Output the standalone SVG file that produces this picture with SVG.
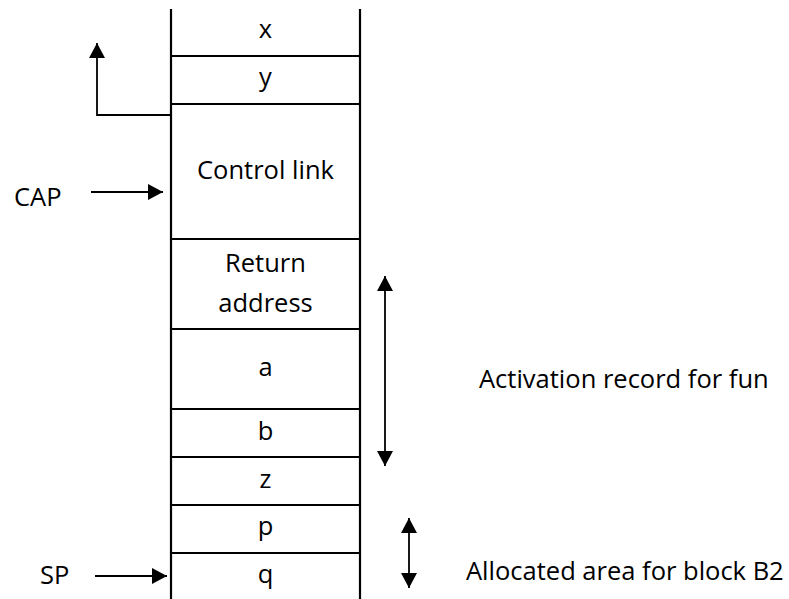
<svg xmlns="http://www.w3.org/2000/svg" width="789" height="599" viewBox="0 0 789 599">
  <defs>
    <style>
      .cell { fill: none; stroke: #000; stroke-width: 2.2; }
      .wire { fill: none; stroke: #000; stroke-width: 1.8; }
      .lbl { font-family: "Open Sans", "Liberation Sans", sans-serif; font-size: 25.5px; fill: #000; }
      .mid { text-anchor: middle; }
    </style>
    <marker id="head" viewBox="0 0 15 16" refX="15" refY="8" markerWidth="15" markerHeight="16" markerUnits="userSpaceOnUse" orient="auto-start-reverse">
      <path d="M0,0 L15,8 L0,16 Z" fill="#000"/>
    </marker>
  </defs>
  <rect width="789" height="599" fill="#fff"/>

  <!-- stack frame: two long side walls -->
  <g id="stack">
    <line class="cell" x1="171" y1="9" x2="171" y2="599"/>
    <line class="cell" x1="360" y1="9" x2="360" y2="599"/>
  </g>

  <g id="cell-x"><text class="lbl mid" x="265.5" y="38">x</text></g>
  <g id="cell-y"><line class="cell" x1="171" y1="56" x2="360" y2="56"/><text class="lbl mid" x="265.5" y="86">y</text></g>
  <g id="cell-control-link"><line class="cell" x1="171" y1="104" x2="360" y2="104"/><text class="lbl mid" x="265.5" y="179">Control link</text></g>
  <g id="cell-return-address"><line class="cell" x1="171" y1="239" x2="360" y2="239"/><text class="lbl mid" x="265.5" y="272">Return</text><text class="lbl mid" x="265.5" y="312">address</text></g>
  <g id="cell-a"><line class="cell" x1="171" y1="329" x2="360" y2="329"/><text class="lbl mid" x="265.5" y="376">a</text></g>
  <g id="cell-b"><line class="cell" x1="171" y1="409" x2="360" y2="409"/><text class="lbl mid" x="265.5" y="440">b</text></g>
  <g id="cell-z"><line class="cell" x1="171" y1="457" x2="360" y2="457"/><text class="lbl mid" x="265.5" y="488">z</text></g>
  <g id="cell-p"><line class="cell" x1="171" y1="505" x2="360" y2="505"/><text class="lbl mid" x="265.5" y="535">p</text></g>
  <g id="cell-q"><line class="cell" x1="171" y1="553" x2="360" y2="553"/><text class="lbl mid" x="265.5" y="583">q</text></g>

  <g id="label-cap"><text class="lbl" x="14" y="206">CAP</text></g>
  <g id="label-sp"><text class="lbl" x="40" y="584">SP</text></g>
  <g id="label-activation"><text class="lbl" x="479" y="388">Activation record for fun</text></g>
  <g id="label-b2"><text class="lbl" x="466" y="580">Allocated area for block B2</text></g>

  <g id="connectors">
    <path class="wire" d="M171,115 H97 V43" marker-end="url(#head)"/>
    <line class="wire" x1="91" y1="192" x2="163" y2="192" marker-end="url(#head)"/>
    <line class="wire" x1="95" y1="576" x2="167" y2="576" marker-end="url(#head)"/>
    <line class="wire" x1="385" y1="276" x2="385" y2="466" marker-start="url(#head)" marker-end="url(#head)"/>
    <line class="wire" x1="409" y1="518" x2="409" y2="588" marker-start="url(#head)" marker-end="url(#head)"/>
  </g>
</svg>
